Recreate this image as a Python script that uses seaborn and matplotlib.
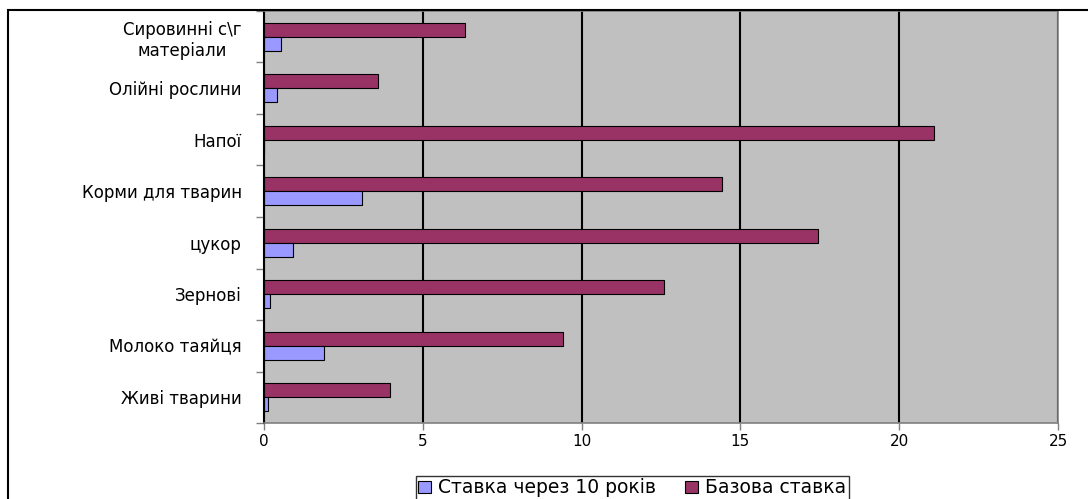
import numpy as np
import pandas as pd
import matplotlib.pyplot as plt
import seaborn as sns
from matplotlib.patches import Patch, Rectangle

categories = [
    "Сировинні с\\г\nматеріали",
    "Олійні рослини",
    "Напої",
    "Корми для тварин",
    "цукор",
    "Зернові",
    "Молоко таяйця",
    "Живі тварини",
]
base_rate = [6.32, 3.58, 21.1, 14.42, 17.45, 12.6, 9.42, 3.97]
rate_10y = [0.53, 0.4, 0.0, 3.07, 0.92, 0.2, 1.89, 0.13]
series = ["Ставка через 10 років", "Базова ставка"]
x_ticks = [0, 5, 10, 15, 20, 25]

colors = {"Ставка через 10 років": "#9999FF", "Базова ставка": "#993366"}

df = pd.DataFrame({
    "category": categories * 2,
    "value": rate_10y + base_rate,
    "series": [series[0]] * len(categories) + [series[1]] * len(categories),
})

sns.set_style("white")
plt.rcParams["font.family"] = ["DejaVu Sans"]
plt.rcParams["text.color"] = "black"
plt.rcParams["xtick.labelcolor"] = "black"
plt.rcParams["ytick.labelcolor"] = "black"

fig = plt.figure(figsize=(10.88, 4.99), dpi=100)
ax = fig.add_axes([264 / 1088, 1 - 423 / 499, (1058 - 264) / 1088, (423 - 11) / 499])
ax.set_facecolor("#C0C0C0")

# base rate goes on top inside each group, like the original
sns.barplot(data=df, y="category", x="value", hue="series", order=categories,
            hue_order=[series[1], series[0]], palette=colors, width=0.55,
            edgecolor="black", linewidth=0.8, orient="h", ax=ax, legend=False,
            saturation=1)

ax.set_xlim(0, 25)
ax.set_ylim(len(categories) - 0.5, -0.5)
ax.set_xticks(x_ticks)
ax.set_xticklabels([str(t) for t in x_ticks], fontsize=11)
ax.tick_params(axis="x", length=5, width=1, color="#808080", pad=3, bottom=True)

ax.set_yticks(range(len(categories)))
ax.set_yticklabels(categories, fontsize=12)
ax.tick_params(axis="y", which="major", length=0, pad=16)
ax.set_yticks(np.arange(-0.5, len(categories), 1), minor=True)
ax.tick_params(axis="y", which="minor", length=6, width=1, color="#808080", left=True)
for lab in ax.get_yticklabels():
    lab.set_multialignment("center")

ax.set_xlabel("")
ax.set_ylabel("")
ax.xaxis.grid(True, color="black", linewidth=1.5)
ax.yaxis.grid(False)
ax.set_axisbelow(True)

for side in ["top", "right", "bottom"]:
    ax.spines[side].set_color("#808080")
    ax.spines[side].set_linewidth(1.2)
ax.spines["left"].set_color("black")
ax.spines["left"].set_linewidth(1.5)

# outer chart frame
fig.add_artist(Rectangle((8 / 1088, -0.1), 1.2, 1 - 10 / 499 + 0.1,
                         transform=fig.transFigure, fill=False,
                         edgecolor="black", linewidth=1.5, clip_on=False))

handles = [Patch(facecolor=colors[s], edgecolor="black", linewidth=0.8) for s in series]
fig.legend(handles, series, loc="upper center", bbox_to_anchor=(632 / 1088, 1 - 476 / 499),
           ncol=2, fontsize=13.5, frameon=True, fancybox=False, edgecolor="black",
           handlelength=0.7, handleheight=0.6, handletextpad=0.4, columnspacing=1.5,
           borderpad=0.12, borderaxespad=0)

plt.savefig("out.png", dpi=100)
